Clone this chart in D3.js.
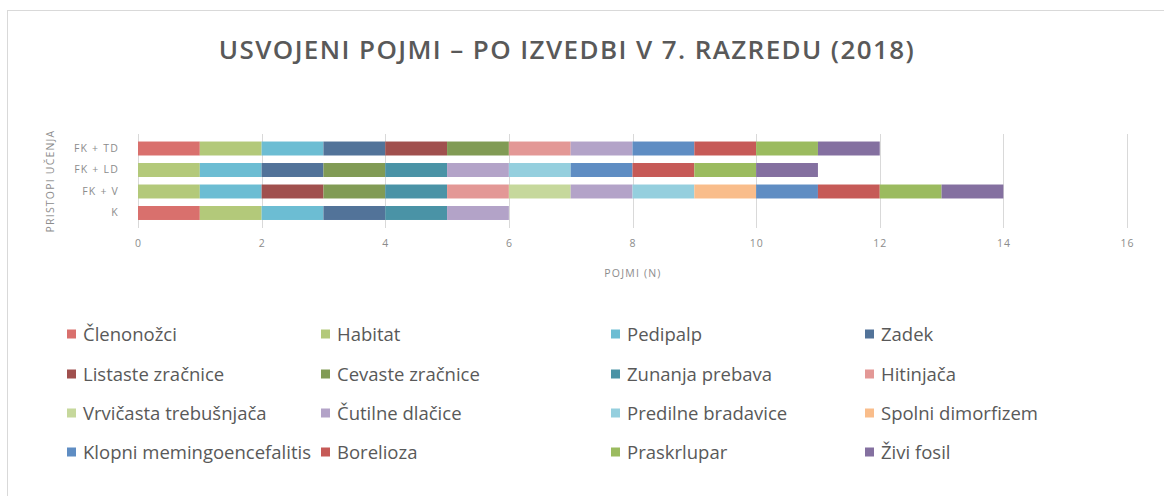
<!DOCTYPE html>
<html>
<head>
<meta charset="utf-8">
<script src="https://cdn.jsdelivr.net/npm/d3@7"></script>
<style>
  body { margin: 0; background: #fff; }
  svg { font-family: "Open Sans", "Liberation Sans", sans-serif; }
</style>
</head>
<body>
<svg width="1164" height="496"></svg>
<script>
// kategorije (od zgoraj navzdol)
var categories = ["FK + TD", "FK + LD", "FK + V", "K"];

// serije (pojmi)
var seriesNames = ["Členonožci", "Habitat", "Pedipalp", "Zadek",
  "Listaste zračnice", "Cevaste zračnice", "Zunanja prebava", "Hitinjača",
  "Vrvičasta trebušnjača", "Čutilne dlačice", "Predilne bradavice", "Spolni dimorfizem",
  "Klopni memingoencefalitis", "Borelioza", "Praskrlupar", "Živi fosil"];

var seriesColors = ["#d9706d", "#b3c97a", "#6cbdd3", "#527399",
  "#a0504e", "#819b55", "#4a93a6", "#e39896",
  "#c6d89c", "#b3a3c8", "#95cfde", "#f9bd8b",
  "#5f8dc3", "#c65a57", "#9bbb5f", "#8470a0"];

// vrednosti po kategorijah (isti vrstni red kot seriesNames)
var valuesTD = [1, 1, 1, 1, 1, 1, 0, 1, 0, 1, 0, 0, 1, 1, 1, 1];
var valuesLD = [0, 1, 1, 1, 0, 1, 1, 0, 0, 1, 1, 0, 1, 1, 1, 1];
var valuesV  = [0, 1, 1, 0, 1, 1, 1, 1, 1, 1, 1, 1, 1, 1, 1, 1];
var valuesK  = [1, 1, 1, 1, 0, 0, 1, 0, 0, 1, 0, 0, 0, 0, 0, 0];

var xTicks = [0, 2, 4, 6, 8, 10, 12, 14, 16];

var svg = d3.select("svg");

// okvir
svg.append("rect")
  .attr("x", 7.5).attr("y", 10.5)
  .attr("width", 1170).attr("height", 500)
  .attr("fill", "#fff").attr("stroke", "#d9d9d9");

// tabela za stack
var rows = [valuesTD, valuesLD, valuesV, valuesK].map(function (vals, i) {
  var r = { cat: categories[i] };
  seriesNames.forEach(function (s, j) { r[s] = vals[j]; });
  return r;
});
var stacked = d3.stack().keys(seriesNames)(rows);

var x = d3.scaleLinear().domain([0, 16]).range([138, 1127]);
var y = d3.scaleBand().domain(categories).range([134, 227.5]).paddingInner(0.35).paddingOuter(0.35);

// mreža
svg.append("g")
  .selectAll("line")
  .data(xTicks)
  .enter()
  .append("line")
  .attr("x1", function (d) { return Math.round(x(d)) + 0.5; })
  .attr("x2", function (d) { return Math.round(x(d)) + 0.5; })
  .attr("y1", 134).attr("y2", 228)
  .attr("stroke", "#d9d9d9");

// stolpci
svg.append("g")
  .selectAll("g")
  .data(stacked)
  .enter()
  .append("g")
  .attr("fill", function (d, i) { return seriesColors[i]; })
  .selectAll("rect")
  .data(function (d) { return d; })
  .enter()
  .append("rect")
  .attr("x", function (d) { return x(d[0]); })
  .attr("y", function (d) { return y(d.data.cat); })
  .attr("width", function (d) { return x(d[1]) - x(d[0]); })
  .attr("height", y.bandwidth());

// os x
var xAxis = svg.append("g")
  .attr("transform", "translate(0,228)")
  .call(d3.axisBottom(x).tickValues(xTicks).tickSize(0).tickPadding(12));
xAxis.select(".domain").remove();
xAxis.selectAll("text").attr("font-size", 10.5).attr("fill", "#8c8c8c")
  .attr("letter-spacing", 1)
  .attr("font-family", "'Open Sans', sans-serif");

// os y
var yAxis = svg.append("g")
  .attr("transform", "translate(138,0)")
  .call(d3.axisLeft(y).tickSize(0).tickPadding(19));
yAxis.select(".domain").remove();
yAxis.selectAll("text").attr("font-size", 10.5).attr("fill", "#8c8c8c")
  .attr("letter-spacing", 1.2)
  .attr("font-family", "'Open Sans', sans-serif");

// naslov
svg.append("text")
  .attr("x", 567).attr("y", 59)
  .attr("text-anchor", "middle")
  .attr("font-size", 26)
  .attr("font-weight", 600)
  .attr("letter-spacing", 1.4)
  .attr("fill", "#595959")
  .text("USVOJENI POJMI – PO IZVEDBI V 7. RAZREDU (2018)");

// naslovi osi
svg.append("text")
  .attr("x", 633).attr("y", 277)
  .attr("text-anchor", "middle")
  .attr("font-size", 10.5)
  .attr("letter-spacing", 1.2)
  .attr("fill", "#8c8c8c")
  .text("POJMI (N)");

svg.append("text")
  .attr("transform", "translate(54,181) rotate(-90)")
  .attr("text-anchor", "middle")
  .attr("font-size", 10.5)
  .attr("letter-spacing", 1.2)
  .attr("fill", "#8c8c8c")
  .text("PRISTOPI UČENJA");

// legenda
var colX = [67, 321, 611, 865];
var rowY = [334, 374, 413, 452];
var legend = svg.append("g")
  .selectAll("g")
  .data(seriesNames)
  .enter()
  .append("g")
  .attr("transform", function (d, i) {
    return "translate(" + colX[i % 4] + "," + rowY[Math.floor(i / 4)] + ")";
  });
legend.append("rect")
  .attr("x", 0).attr("y", -4.5)
  .attr("width", 9).attr("height", 9)
  .attr("fill", function (d, i) { return seriesColors[i]; });
legend.append("text")
  .attr("x", 16).attr("y", 6.5)
  .attr("font-size", 18.5)
  .attr("fill", "#595959")
  .text(function (d) { return d; });
</script>
</body>
</html>
